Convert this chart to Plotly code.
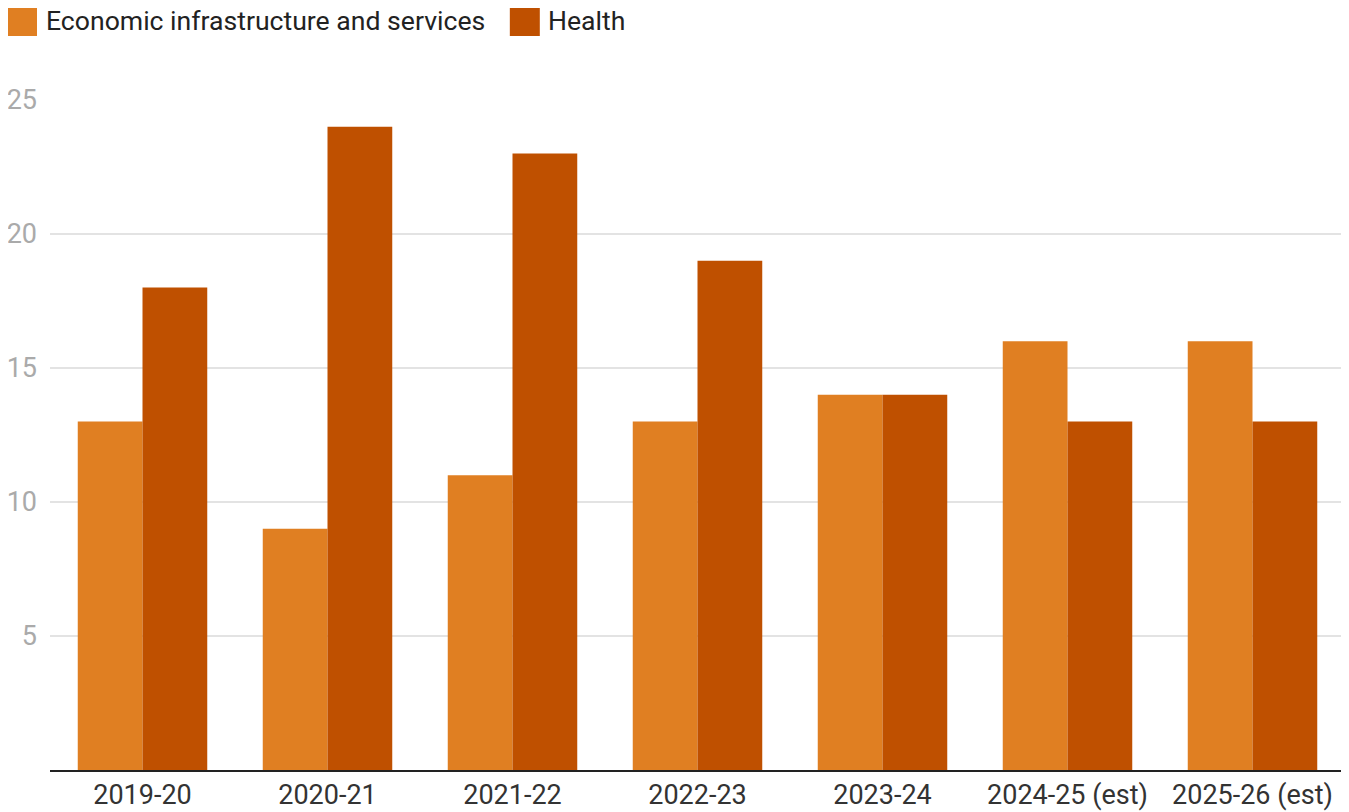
import plotly.graph_objects as go

categories = ["2019-20", "2020-21", "2021-22", "2022-23", "2023-24", "2024-25 (est)", "2025-26 (est)"]
economic = [13, 9, 11, 13, 14, 16, 16]
health = [18, 24, 23, 19, 14, 13, 13]
series_names = ["Economic infrastructure and services", "Health"]
colors = ["#E07F22", "#BF5000"]
y_ticks = [5, 10, 15, 20, 25]

OFF = 8  # page body margin
W, H = 1349 - OFF, 812 - OFF
L, R, T, B = 50 - OFF, 3.5, 100 - OFF, 42
pw, ph = W - L - R, H - T - B

def px_x(x):
    return (x - OFF - L) / pw

def px_y(y):
    return (H - B - (y - OFF)) / ph

fig = go.Figure()
for name, vals, c in zip(series_names, [economic, health], colors):
    fig.add_trace(go.Bar(x=categories, y=vals, name=name, marker=dict(color=c, line=dict(width=0)),
                         showlegend=False))

# custom legend
legend_items = [(7, 44), (510, 546)]
for (sx, tx), name, c in zip(legend_items, series_names, colors):
    fig.add_shape(type="rect", xref="paper", yref="paper",
                  x0=px_x(sx), x1=px_x(sx + 30), y0=px_y(36), y1=px_y(6),
                  fillcolor=c, line=dict(width=0))
    fig.add_annotation(xref="paper", yref="paper", x=px_x(tx), y=px_y(21),
                       text=name, showarrow=False, xanchor="left", yanchor="middle",
                       font=dict(family="Roboto", size=26.6, color="#222222"))

fig.update_layout(
    width=W, height=H,
    margin=dict(l=L, r=R, t=T, b=B, pad=0),
    paper_bgcolor="white", plot_bgcolor="white",
    barmode="group", bargap=0.30, bargroupgap=0,
    font=dict(family="Roboto", size=27, color="#333333"),
    xaxis=dict(showline=True, linecolor="#222222", linewidth=2, ticks="", automargin=False,
               tickfont=dict(size=27, color="#333333"), showgrid=False),
    yaxis=dict(range=[0, 25], tickvals=y_ticks, showgrid=True, gridcolor="#e3e3e3", gridwidth=2,
               zeroline=False, automargin=False, ticks="", ticklabelstandoff=12,
               tickfont=dict(size=27, color="#aaaaaa")),
)

fig.write_html("out.html")
